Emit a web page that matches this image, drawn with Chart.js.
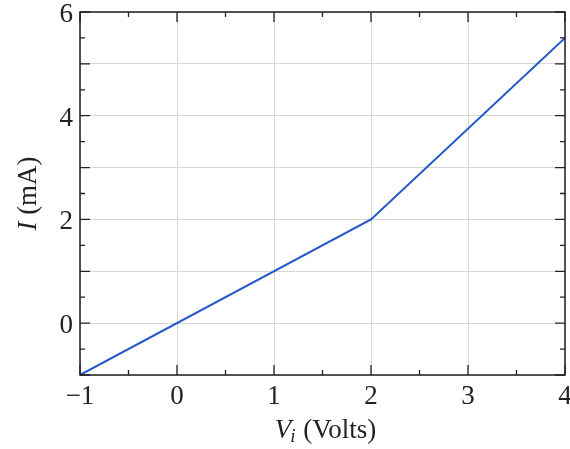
<!DOCTYPE html>
<html>
<head>
<meta charset="utf-8">
<script src="https://cdn.jsdelivr.net/npm/chart.js@4/dist/chart.umd.min.js"></script>
<style>
html,body{margin:0;padding:0;background:#fff;}
#wrap{width:570px;height:449px;}
</style>
</head>
<body>
<div id="wrap"><canvas id="c" width="570" height="449"></canvas></div>
<script>
// Data
const xValues = [-1, 2, 4];          // V_i (Volts)
const yValues = [-1, 2, 5.5];        // I (mA)
const xTicks = [-1, 0, 1, 2, 3, 4];
const yTicks = [-1, 0, 1, 2, 3, 4, 5, 6];
const yLabelled = [0, 2, 4, 6];
const xTitleMain = 'V', xTitleSub = 'i', xTitleRest = ' (Volts)';
const yTitleMain = 'I', yTitleRest = ' (mA)';

const FONT = '"Liberation Serif", "DejaVu Serif", serif';
const SIZE = 27;
const points = xValues.map((x, i) => ({x: x, y: yValues[i]}));

function fmt(v) { return v < 0 ? '\u2212' + Math.abs(v) : String(v); }

const decor = {
  id: 'decor',
  afterDraw(chart) {
    const ctx = chart.ctx, a = chart.chartArea;
    const xs = chart.scales.x, ys = chart.scales.y;
    ctx.save();
    // frame
    ctx.strokeStyle = '#222';
    ctx.lineWidth = 1.5;
    ctx.strokeRect(a.left, a.top, a.right - a.left, a.bottom - a.top);
    // tick marks
    ctx.lineWidth = 1.3;
    ctx.beginPath();
    const major = 10, minor = 5;
    for (let v = xs.min; v <= xs.max + 1e-9; v += 0.5) {
      const px = xs.getPixelForValue(v);
      const len = Math.abs(v - Math.round(v)) < 1e-9 ? major : minor;
      ctx.moveTo(px, a.bottom); ctx.lineTo(px, a.bottom - len);
      ctx.moveTo(px, a.top); ctx.lineTo(px, a.top + len);
    }
    for (let v = ys.min; v <= ys.max + 1e-9; v += 0.5) {
      const py = ys.getPixelForValue(v);
      const len = Math.abs(v - Math.round(v)) < 1e-9 ? major : minor;
      ctx.moveTo(a.left, py); ctx.lineTo(a.left + len, py);
      ctx.moveTo(a.right, py); ctx.lineTo(a.right - len, py);
    }
    ctx.stroke();
    // tick labels
    ctx.fillStyle = '#222';
    ctx.font = SIZE + 'px ' + FONT;
    ctx.textAlign = 'center';
    ctx.textBaseline = 'alphabetic';
    xTicks.forEach(v => {
      const t = fmt(v);
      let px = xs.getPixelForValue(v);
      ctx.fillText(t, px, a.bottom + 29);
    });
    ctx.textAlign = 'right';
    yLabelled.forEach(v => {
      const py = ys.getPixelForValue(v);
      ctx.fillText(fmt(v), a.left - 7, py + 10);
    });
    // x title
    ctx.textAlign = 'left';
    const fMain = 'italic ' + SIZE + 'px ' + FONT, fSub = 'italic 19px ' + FONT, fReg = SIZE + 'px ' + FONT;
    ctx.font = fMain; const w1 = ctx.measureText(xTitleMain).width;
    ctx.font = fSub; const w2 = ctx.measureText(xTitleSub).width;
    ctx.font = fReg; const w3 = ctx.measureText(xTitleRest).width;
    const cx = (a.left + a.right) / 2 + 3;
    let x0 = cx - (w1 + w2 + w3) / 2;
    const by = 438;
    ctx.font = fMain; ctx.fillText(xTitleMain, x0, by); x0 += w1 - 1;
    ctx.font = fSub; ctx.fillText(xTitleSub, x0, by + 4); x0 += w2 + 1;
    ctx.font = fReg; ctx.fillText(xTitleRest, x0, by);
    // y title
    ctx.save();
    ctx.translate(36, (a.top + a.bottom) / 2);
    ctx.rotate(-Math.PI / 2);
    ctx.font = fMain; const v1 = ctx.measureText(yTitleMain).width;
    ctx.font = fReg; const v2 = ctx.measureText(yTitleRest).width;
    let y0 = -(v1 + v2) / 2;
    ctx.font = fMain; ctx.fillText(yTitleMain, y0, 0); y0 += v1;
    ctx.font = fReg; ctx.fillText(yTitleRest, y0, 0);
    ctx.restore();
    ctx.restore();
  }
};

new Chart(document.getElementById('c'), {
  type: 'scatter',
  data: {
    datasets: [{
      data: points,
      showLine: true,
      borderColor: '#2257cc',
      borderWidth: 2,
      pointRadius: 0,
      fill: false
    }]
  },
  options: {
    responsive: false,
    animation: false,
    events: [],
    layout: {padding: {left: 0, right: 5, top: 12, bottom: 0}},
    plugins: {legend: {display: false}, tooltip: {enabled: false}},
    scales: {
      x: {
        type: 'linear', min: -1, max: 4,
        afterBuildTicks(s) { s.ticks = xTicks.map(v => ({value: v})); },
        afterFit(s) { s.height = 74; },
        grid: {color: '#d6d6d6', lineWidth: 1, drawTicks: false},
        border: {display: false},
        ticks: {display: false}
      },
      y: {
        type: 'linear', min: -1, max: 6,
        afterBuildTicks(s) { s.ticks = yTicks.map(v => ({value: v})); },
        afterFit(s) { s.width = 80; },
        grid: {color: '#d6d6d6', lineWidth: 1, drawTicks: false},
        border: {display: false},
        ticks: {display: false}
      }
    }
  },
  plugins: [decor]
});
</script>
</body>
</html>
